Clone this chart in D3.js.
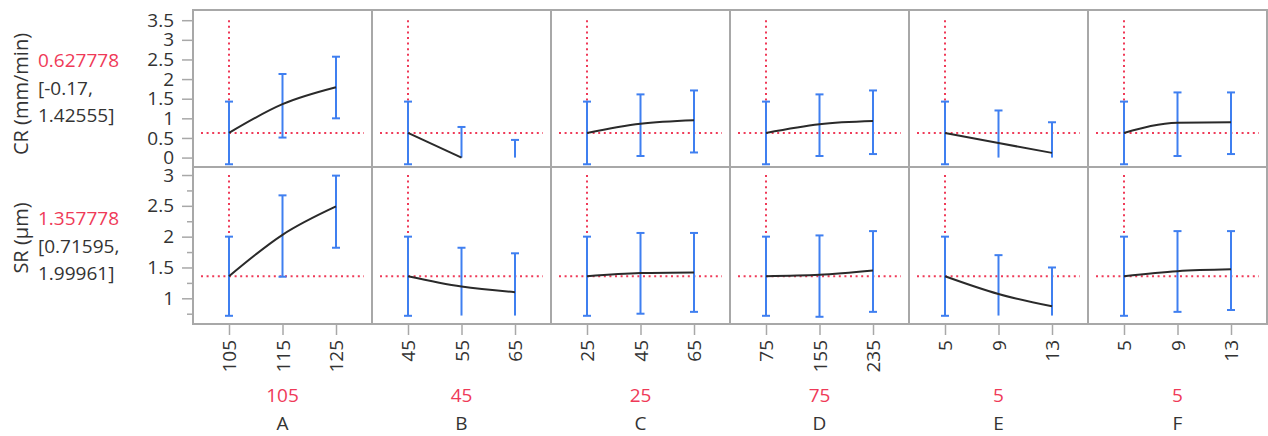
<!DOCTYPE html>
<html>
<head>
<meta charset="utf-8">
<script src="https://cdn.jsdelivr.net/npm/d3@7"></script>
<style>
  body { margin: 0; background: #fff; }
  svg text { font-family: 'Open Sans', sans-serif; }
</style>
</head>
<body>
<svg id="chart" width="1268" height="436"></svg>
<script>
// factors and their levels
const factors = ['A', 'B', 'C', 'D', 'E', 'F'];
const levels = [[105, 115, 125], [45, 55, 65], [25, 45, 65], [75, 155, 235], [5, 9, 13], [5, 9, 13]];
const current = [105, 45, 25, 75, 5, 5];

// CR (mm/min) profile: predicted value, lower and upper limit (null low = clipped at floor)
const crMid = [[0.628, 1.36, 1.79], [0.628, 0, null], [0.628, 0.86, 0.95], [0.628, 0.85, 0.93], [0.628, 0.37, 0.12], [0.628, 0.89, 0.90]];
const crLo = [[-0.17, 0.51, 1.0], [-0.17, null, null], [-0.17, 0.04, 0.13], [-0.17, 0.04, 0.09], [-0.17, null, null], [-0.17, 0.04, 0.09]];
const crHi = [[1.426, 2.13, 2.57], [1.426, 0.78, 0.45], [1.426, 1.61, 1.71], [1.426, 1.61, 1.71], [1.426, 1.20, 0.90], [1.426, 1.66, 1.66]];
const crFloor = 0;
const crRef = 0.627778;
const crSummary = ['0.627778', '[-0.17,', '1.42555]'];
const crTicks = [0, 0.5, 1, 1.5, 2, 2.5, 3, 3.5];
const crMinor = [];

// SR (µm) profile
const srMid = [[1.358, 2.03, 2.49], [1.358, 1.19, 1.10], [1.358, 1.41, 1.42], [1.358, 1.38, 1.45], [1.358, 1.07, 0.87], [1.358, 1.44, 1.47]];
const srLo = [[0.716, 1.35, 1.82], [0.716, null, null], [0.716, 0.75, 0.78], [0.716, 0.70, 0.78], [0.716, null, null], [0.716, 0.78, 0.81]];
const srHi = [[2.0, 2.67, 2.99], [2.0, 1.82, 1.73], [2.0, 2.06, 2.06], [2.0, 2.02, 2.09], [2.0, 1.70, 1.50], [2.0, 2.09, 2.09]];
const srFloor = 0.72;
const srRef = 1.357778;
const srSummary = ['1.357778', '[0.71595,', '1.99961]'];
const srTicks = [1, 1.5, 2, 2.5, 3];
const srMinor = [0.75, 1.25, 1.75, 2.25, 2.75];

const RED = '#ef3a58';
const BLUE = '#3f7ff0';
const GRID = '#a8a8a8';
const INK = '#333';

const svg = d3.select('#chart');
const panelLeft = 193, panelW = 179;

const rows = [
  { name: 'CR (mm/min)', mid: crMid, lo: crLo, hi: crHi, floor: crFloor, ref: crRef, summary: crSummary,
    ticks: crTicks, minor: crMinor, domain: [-0.24, 3.76], top: 10, bottom: 167, labelY: 94, textY: [67, 95, 122] },
  { name: 'SR (µm)', mid: srMid, lo: srLo, hi: srHi, floor: srFloor, ref: srRef, summary: srSummary,
    ticks: srTicks, minor: srMinor, domain: [0.583, 3.13], top: 167, bottom: 324, labelY: 238, textY: [225, 253, 280] }
];

const xScales = factors.map((f, i) => {
  const lo = d3.min(levels[i]), hi = d3.max(levels[i]);
  const pad = (hi - lo) * 0.3364;
  const x0 = panelLeft + i * panelW;
  return d3.scaleLinear().domain([lo - pad, hi + pad]).range([x0, x0 + panelW]);
});

rows.forEach(row => {
  const y = d3.scaleLinear().domain(row.domain).range([row.bottom, row.top]);

  // row title and summary text
  svg.append('text')
    .attr('transform', `translate(21,${row.labelY}) rotate(-90)`)
    .attr('dy', '0.35em')
    .attr('text-anchor', 'middle')
    .attr('fill', INK)
    .style('font-size', '20px')
    .text(row.name);

  row.summary.forEach((s, k) => {
    svg.append('text')
      .attr('x', 38)
      .attr('y', row.textY[k])
      .attr('fill', k === 0 ? RED : INK)
      .style('font-size', '19px')
      .text(s);
  });

  // y axis
  const yAxis = svg.append('g')
    .attr('transform', `translate(${panelLeft},0)`)
    .call(d3.axisLeft(y).tickValues(row.ticks).tickSize(11).tickPadding(8).tickFormat(d3.format('~g')));
  yAxis.select('.domain').remove();
  yAxis.selectAll('line').attr('stroke', GRID).attr('stroke-width', 1.5);
  yAxis.selectAll('text').attr('fill', INK).style('font-size', '19px');

  if (row.minor.length) {
    const minorAxis = svg.append('g')
      .attr('transform', `translate(${panelLeft},0)`)
      .call(d3.axisLeft(y).tickValues(row.minor).tickSize(6).tickFormat(''));
    minorAxis.select('.domain').remove();
    minorAxis.selectAll('line').attr('stroke', GRID).attr('stroke-width', 1.5);
  }

  factors.forEach((f, i) => {
    const x = xScales[i];
    const [x0, x1] = x.range();
    const g = svg.append('g');

    // panel frame
    g.append('rect')
      .attr('x', x0).attr('y', row.top)
      .attr('width', x1 - x0).attr('height', row.bottom - row.top)
      .attr('fill', 'none').attr('stroke', GRID).attr('stroke-width', 2);

    // reference crosshair
    g.append('line')
      .attr('x1', x0 + 8).attr('x2', x1 - 8)
      .attr('y1', y(row.ref)).attr('y2', y(row.ref))
      .attr('stroke', RED).attr('stroke-width', 2).attr('stroke-dasharray', '2,3.6');
    g.append('line')
      .attr('x1', x(current[i])).attr('x2', x(current[i]))
      .attr('y1', y(d3.max(row.ticks))).attr('y2', y(row.ref))
      .attr('stroke', RED).attr('stroke-width', 2).attr('stroke-dasharray', '2,3.6');

    // interval bars
    const pts = levels[i].map((v, k) => ({
      v, mid: row.mid[i][k], lo: row.lo[i][k], hi: row.hi[i][k]
    }));
    pts.forEach(p => {
      const yl = y(p.lo === null ? row.floor : p.lo);
      const yh = y(p.hi);
      const cx = x(p.v);
      g.append('line').attr('x1', cx).attr('x2', cx).attr('y1', yl).attr('y2', yh)
        .attr('stroke', BLUE).attr('stroke-width', 2);
      g.append('line').attr('x1', cx - 4).attr('x2', cx + 4).attr('y1', yh).attr('y2', yh)
        .attr('stroke', BLUE).attr('stroke-width', 2);
      if (p.lo !== null) {
        g.append('line').attr('x1', cx - 4).attr('x2', cx + 4).attr('y1', yl).attr('y2', yl)
          .attr('stroke', BLUE).attr('stroke-width', 2);
      }
    });

    // profile curve
    const line = d3.line()
      .defined(p => p.mid !== null)
      .x(p => x(p.v))
      .y(p => y(p.mid))
      .curve(d3.curveMonotoneX);
    g.append('path')
      .datum(pts)
      .attr('d', line)
      .attr('fill', 'none')
      .attr('stroke', '#2a2a2a')
      .attr('stroke-width', 2);
  });
});

// bottom axes, current values and factor names
factors.forEach((f, i) => {
  const x = xScales[i];
  const ax = svg.append('g')
    .attr('transform', 'translate(0,324)')
    .call(d3.axisBottom(x).tickValues(levels[i]).tickSize(11).tickFormat(d3.format('d')));
  ax.select('.domain').remove();
  ax.selectAll('line').attr('stroke', GRID).attr('stroke-width', 1.5);
  ax.selectAll('text')
    .attr('y', 0)
    .attr('x', -16)
    .attr('dy', '0.35em')
    .attr('transform', 'rotate(-90)')
    .style('text-anchor', 'end')
    .style('font-size', '19px')
    .attr('fill', INK);

  const cx = d3.mean(x.range());
  svg.append('text')
    .attr('x', cx).attr('y', 402)
    .attr('text-anchor', 'middle')
    .attr('fill', RED)
    .style('font-size', '19px')
    .text(current[i]);
  svg.append('text')
    .attr('x', cx).attr('y', 430)
    .attr('text-anchor', 'middle')
    .attr('fill', INK)
    .style('font-size', '19px')
    .text(f);
});
</script>
</body>
</html>
